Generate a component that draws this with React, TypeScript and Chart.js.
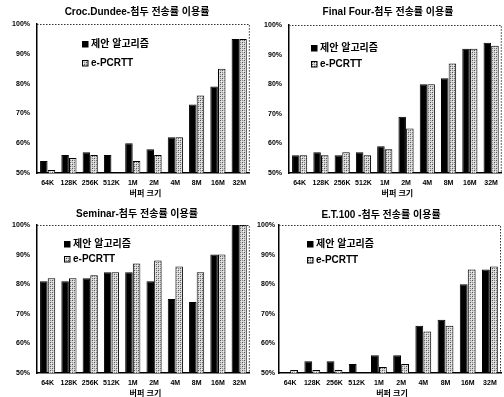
import React, { useEffect, useRef } from "react";
import { Chart, registerables } from "chart.js";

Chart.register(...registerables);

const categories = ["64K", "128K", "256K", "512K", "1M", "2M", "4M", "8M", "16M", "32M"];
const seriesNames = ["제안 알고리즘", "e-PCRTT"];
const xAxisTitle = "버퍼 크기";
const yTicks = [50, 60, 70, 80, 90, 100];

const crocTitle = "Croc.Dundee-첨두 전송률 이용률";
const crocProposed = [54, 56, 57, 56, 60, 58, 62, 73, 79, 95];
const crocEpcrtt = [51, 55, 56, 50, 54, 56, 62, 76, 85, 95];

const finalTitle = "Final Four-첨두 전송률 이용률";
const finalProposed = [56, 57, 56, 57, 59, 69, 80, 82, 92, 94];
const finalEpcrtt = [56, 56, 57, 56, 58, 65, 80, 87, 92, 93];

const seminarTitle = "Seminar-첨두 전송률 이용률";
const seminarProposed = [81, 81, 82, 84, 84, 81, 75, 74, 90, 100];
const seminarEpcrtt = [82, 82, 83, 84, 87, 88, 86, 84, 90, 100];

const etTitle = "E.T.100 -첨두 전송률 이용률";
const etProposed = [50, 54, 54, 53, 56, 56, 66, 68, 80, 85];
const etEpcrtt = [51, 51, 51, 50, 52, 53, 64, 66, 85, 86];

const TICK_FONT = "'Liberation Sans', Arial, sans-serif";
const TEXT_FONT = "'Liberation Sans', 'Noto Sans CJK KR', sans-serif";

function makePattern(): CanvasPattern | string {
  const c = document.createElement("canvas");
  c.width = 4;
  c.height = 4;
  const g = c.getContext("2d");
  if (!g) return "#aaa";
  g.fillStyle = "#d4d4d4";
  g.fillRect(0, 0, 4, 4);
  g.fillStyle = "#555";
  g.fillRect(0, 0, 1, 1);
  g.fillRect(2, 2, 1, 1);
  g.fillStyle = "#8a8a8a";
  g.fillRect(2, 0, 1, 1);
  g.fillRect(0, 2, 1, 1);
  g.fillStyle = "#f2f2f2";
  g.fillRect(1, 1, 1, 1);
  g.fillRect(3, 3, 1, 1);
  const p = g.createPattern(c, "repeat");
  return p || "#aaa";
}

const decorPlugin = {
  id: "decor",
  afterDraw(chart: any, _args: any, opts: any) {
    const { ctx, chartArea: a } = chart;
    ctx.save();
    // dashed top & right frame
    ctx.setLineDash([1.5, 1.5]);
    ctx.strokeStyle = "#333";
    ctx.lineWidth = 1;
    ctx.beginPath();
    ctx.moveTo(a.left, a.top + 0.5);
    ctx.lineTo(a.right - 0.5, a.top + 0.5);
    ctx.lineTo(a.right - 0.5, a.bottom);
    ctx.stroke();
    ctx.setLineDash([]);
    // title
    ctx.fillStyle = "#000";
    ctx.font = `bold 10px ${TEXT_FONT}`;
    ctx.textAlign = "center";
    ctx.textBaseline = "middle";
    ctx.fillText(opts.title, opts.titleX, opts.titleY);
    // legend
    const fills = chart.data.datasets.map((d: any) => d.backgroundColor);
    ctx.font = `bold 10px ${TEXT_FONT}`;
    ctx.textAlign = "left";
    chart.data.datasets.forEach((d: any, i: number) => {
      const y = opts.legendY + i * opts.legendGap;
      ctx.fillStyle = fills[i];
      ctx.fillRect(opts.legendX, y - 3, 6, 6);
      ctx.strokeStyle = "#000";
      ctx.lineWidth = 1;
      ctx.strokeRect(opts.legendX + 0.5, y - 2.5, 5.5, 5.5);
      ctx.fillStyle = "#000";
      ctx.fillText(d.label, opts.legendX + 9, y + 0.5);
    });
    // x axis title
    ctx.font = `bold 8px ${TEXT_FONT}`;
    ctx.textAlign = "center";
    ctx.fillText(xAxisTitle, (a.left + a.right) / 2 + 2, a.bottom + opts.xTitleDy);
    ctx.restore();
  },
};

type Panel = {
  title: string;
  proposed: number[];
  epcrtt: number[];
  width: number;
  height: number;
  left: number;
  top: number;
  padTop: number;
  padRight: number;
  yWidth: number;
  yPad: number;
  titleX: number;
  titleY: number;
  legendX: number;
  legendY: number;
  legendGap: number;
  xTitleDy: number;
};

function BarPanel(p: Panel) {
  const ref = useRef<HTMLCanvasElement>(null);
  useEffect(() => {
    if (!ref.current) return;
    const pattern = makePattern();
    const chart = new Chart(ref.current, {
      type: "bar",
      data: {
        labels: categories,
        datasets: [
          {
            label: seriesNames[0],
            data: p.proposed,
            backgroundColor: "#000",
            borderColor: "#000",
            borderWidth: 1,
            categoryPercentage: 0.72,
            barPercentage: 0.98,
          },
          {
            label: seriesNames[1],
            data: p.epcrtt,
            backgroundColor: pattern as any,
            borderColor: "#000",
            borderWidth: 1,
            categoryPercentage: 0.72,
            barPercentage: 0.98,
          },
        ],
      },
      options: {
        responsive: false,
        animation: false,
        layout: { padding: { top: p.padTop, right: p.padRight, left: 0, bottom: 0 } },
        plugins: {
          legend: { display: false },
          title: { display: false },
          tooltip: { enabled: false },
          decor: {
            title: p.title,
            titleX: p.titleX,
            titleY: p.titleY,
            legendX: p.legendX,
            legendY: p.legendY,
            legendGap: p.legendGap,
            xTitleDy: p.xTitleDy,
          },
        } as any,
        scales: {
          x: {
            grid: { display: false, drawTicks: false },
            border: { display: true, color: "#000", width: 1.5 },
            ticks: {
              color: "#000",
              font: { family: TICK_FONT, size: 7, weight: "bold" },
              padding: 6,
              maxRotation: 0,
              autoSkip: false,
            },
            afterFit: (s: any) => {
              s.height = p.height - 173;
            },
          },
          y: {
            min: 50,
            max: 100,
            grid: { display: false, drawTicks: false },
            border: { display: true, color: "#000", width: 1.5 },
            afterBuildTicks: (s: any) => {
              s.ticks = yTicks.map((v) => ({ value: v }));
            },
            ticks: {
              color: "#000",
              font: { family: TICK_FONT, size: 7, weight: "bold" },
              padding: p.yPad,
              callback: (v: any) => `${v}%`,
            },
            afterFit: (s: any) => {
              s.width = p.yWidth;
            },
          },
        },
      },
      plugins: [decorPlugin],
    });
    return () => chart.destroy();
  }, []);
  return (
    <canvas
      ref={ref}
      width={p.width}
      height={p.height}
      style={{ position: "absolute", left: p.left, top: p.top, width: p.width, height: p.height }}
    />
  );
}

export default function App() {
  return (
    <div
      style={{
        position: "fixed",
        left: 0,
        top: 0,
        width: 504,
        height: 397,
        background: "#fff",
        overflow: "hidden",
      }}
    >
      <BarPanel
        title={crocTitle}
        proposed={crocProposed}
        epcrtt={crocEpcrtt}
        width={252}
        height={200}
        left={0}
        top={0}
        padTop={24}
        padRight={0}
        yWidth={37}
        yPad={7}
        titleX={137}
        titleY={12}
        legendX={82}
        legendY={44}
        legendGap={19}
        xTitleDy={21}
      />
      <BarPanel
        title={finalTitle}
        proposed={finalProposed}
        epcrtt={finalEpcrtt}
        width={252}
        height={200}
        left={252}
        top={0}
        padTop={25}
        padRight={1}
        yWidth={37}
        yPad={7}
        titleX={136}
        titleY={12}
        legendX={59}
        legendY={48}
        legendGap={16}
        xTitleDy={21}
      />
      <BarPanel
        title={seminarTitle}
        proposed={seminarProposed}
        epcrtt={seminarEpcrtt}
        width={252}
        height={197}
        left={0}
        top={200}
        padTop={25}
        padRight={0}
        yWidth={37}
        yPad={7}
        titleX={137}
        titleY={14}
        legendX={64}
        legendY={44}
        legendGap={15}
        xTitleDy={21}
      />
      <BarPanel
        title={etTitle}
        proposed={etProposed}
        epcrtt={etEpcrtt}
        width={252}
        height={197}
        left={252}
        top={200}
        padTop={25}
        padRight={3}
        yWidth={27}
        yPad={4}
        titleX={129}
        titleY={15}
        legendX={55}
        legendY={44}
        legendGap={16}
        xTitleDy={21}
      />
    </div>
  );
}
